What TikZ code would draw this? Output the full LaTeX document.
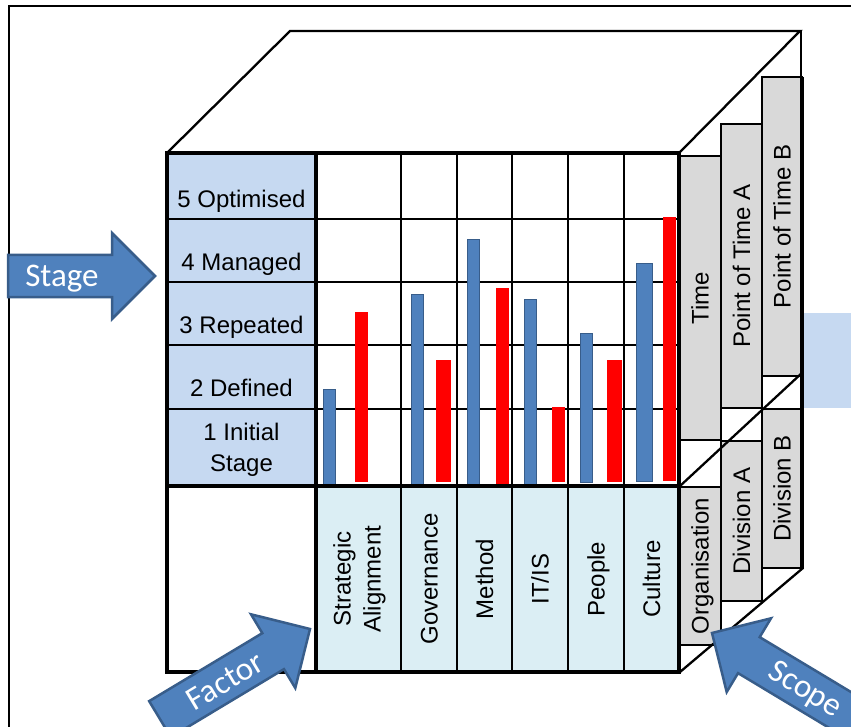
\documentclass[tikz,border=0pt]{standalone}
\usepackage{fontspec}
\setmainfont{Liberation Sans}
\newfontfamily\calibrifont{Carlito}
\definecolor{stageblue}{HTML}{C6D9F1}
\definecolor{factorcyan}{HTML}{DBEEF4}
\definecolor{tabgray}{HTML}{D9D9D9}
\definecolor{barblue}{HTML}{4F81BD}
\definecolor{barblueedge}{HTML}{385D8A}
\definecolor{barred}{HTML}{FF0000}
\tikzset{
  frameline/.style={line width=2pt},
  cubeedge/.style={line width=2.3pt, line cap=round},
  thickline/.style={line width=3.3pt, line cap=rect},
  gridline/.style={line width=1.7pt},
  bluebar/.style={fill=barblue, draw=barblueedge, line width=1pt},
  redbar/.style={fill=barred},
  tabbox/.style={fill=tabgray, draw=black, line width=1.8pt},
  txt/.style={font=\fontsize{24}{30}\selectfont, inner sep=0pt, text=black},
  rottxt/.style={txt, rotate=90, text height=17.2pt, text depth=0pt},
  bluearrow/.style={fill=barblue, draw=barblueedge, line width=2.5pt, line join=miter},
  arrowtxt/.style={font=\calibrifont\fontsize{33}{36}\selectfont, text=white, inner sep=0pt,
    text height=21pt, text depth=0pt}
}
\begin{document}
\begin{tikzpicture}[x=1pt,y=-1pt]
\useasboundingbox (0,0) rectangle (851,727);
\clip (0,0) rectangle (851,727);

% outer frame
\draw[frameline] (9,740) -- (9,6) -- (860,6);

% pale blue patch on the right
\fill[stageblue] (803,313) rectangle (860,408);

% top face of the cube
\draw[cubeedge] (167,153) -- (290,31) -- (800,31) -- (679,153);

% front face fills
\fill[stageblue] (167,153) rectangle (316,486);
\fill[factorcyan] (316,486) rectangle (679,672);

% grid
\foreach \y in {219,282,345,409} \draw[gridline] (167,\y) -- (679,\y);
\foreach \x in {401,457,512,568,624} \draw[gridline] (\x,153) -- (\x,672);

% bars
\draw[bluebar] (323,389) rectangle (335,484);
\fill[redbar]  (355,312) rectangle (368,482);
\draw[bluebar] (411,294) rectangle (423,484);
\fill[redbar]  (436,360) rectangle (451,482);
\draw[bluebar] (467,240) rectangle (479,487);
\fill[redbar]  (496,288) rectangle (509,484);
\draw[bluebar] (524,299) rectangle (536,487);
\fill[redbar]  (552,407) rectangle (565,482);
\draw[bluebar] (580,333) rectangle (592,482);
\fill[redbar]  (607,360) rectangle (622,482);
\draw[bluebar] (636,264) rectangle (652,481);
\fill[redbar]  (663,217) rectangle (676,481);

% front face frame
\draw[thickline] (167,153) rectangle (679,672);
\draw[thickline] (316,153) -- (316,672);
\draw[thickline] (167,486) -- (679,486);

% side tabs: time
\draw[tabbox] (679,156) rectangle (721,440);
\draw[tabbox] (721,124) rectangle (762,408);
\draw[tabbox] (762,77) rectangle (802,376);
% side tabs: scope
\draw[tabbox] (679,487) rectangle (721,645);
\draw[tabbox] (721,441) rectangle (762,601);
\draw[tabbox] (762,409) rectangle (802,568);

% right side edges
\draw[thickline] (679,153) -- (679,672);
\draw[cubeedge] (680,486) -- (803,372);
\draw[cubeedge] (680,672) -- (803,568);
\draw[line width=2pt] (801,31) -- (801,77);
\draw[line width=3.5pt] (802,77) -- (802,568);

% stage labels
\node[txt, anchor=base] (s5) at (241.5,207.6) {5 Optimised};
\node[txt, anchor=base] (s4) at (241.5,270.6) {4 Managed};
\node[txt, anchor=base] (s3) at (241.5,333.6) {3 Repeated};
\node[txt, anchor=base] (s2) at (241.5,396.6) {2 Defined};
\node[txt, anchor=base] (s1a) at (241.5,440.6) {1 Initial};
\node[txt, anchor=base] (s1b) at (241.5,471.6) {Stage};

% factor labels
\node[rottxt] (f1a) at (342,579) {Strategic};
\node[rottxt] (f1b) at (372,579) {Alignment};
\node[rottxt] (f2) at (429,579) {Governance};
\node[rottxt] (f3) at (484.5,579) {Method};
\node[rottxt] (f4) at (540,579) {IT/IS};
\node[rottxt] (f5) at (596,579) {People};
\node[rottxt] (f6) at (651.5,579) {Culture};

% tab labels
\node[rottxt] (t0) at (700,298) {Time};
\node[rottxt] (t1) at (741.5,266) {Point of Time A};
\node[rottxt] (t2) at (782,226.5) {Point of Time B};
\node[rottxt] (o0) at (700,566) {Organisation};
\node[rottxt] (o1) at (741.5,521) {Division A};
\node[rottxt] (o2) at (782,488.5) {Division B};

% block arrows
\draw[bluearrow] (155,276) -- (112,233) -- (112,255) -- (8,255) -- (8,297) -- (112,297) -- (112,319) -- cycle;
\begin{scope}[shift={(310,629)}, rotate=31]
  \draw[bluearrow] (0,0) -- (-43,-43) -- (-43,-21) -- (-175,-21) -- (-175,21) -- (-43,21) -- (-43,43) -- cycle;
\end{scope}
\begin{scope}[shift={(712,633)}, rotate=149]
  \draw[bluearrow] (0,0) -- (-43,-43) -- (-43,-21) -- (-230,-21) -- (-230,21) -- (-43,21) -- (-43,43) -- cycle;
\end{scope}
\node[arrowtxt] (stage) at (62,276) {Stage};
\node[arrowtxt, rotate=31] (factor) at (225,681) {Factor};
\node[arrowtxt, rotate=-31] (scope) at (806,688) {Scope};
\end{tikzpicture}
\end{document}
